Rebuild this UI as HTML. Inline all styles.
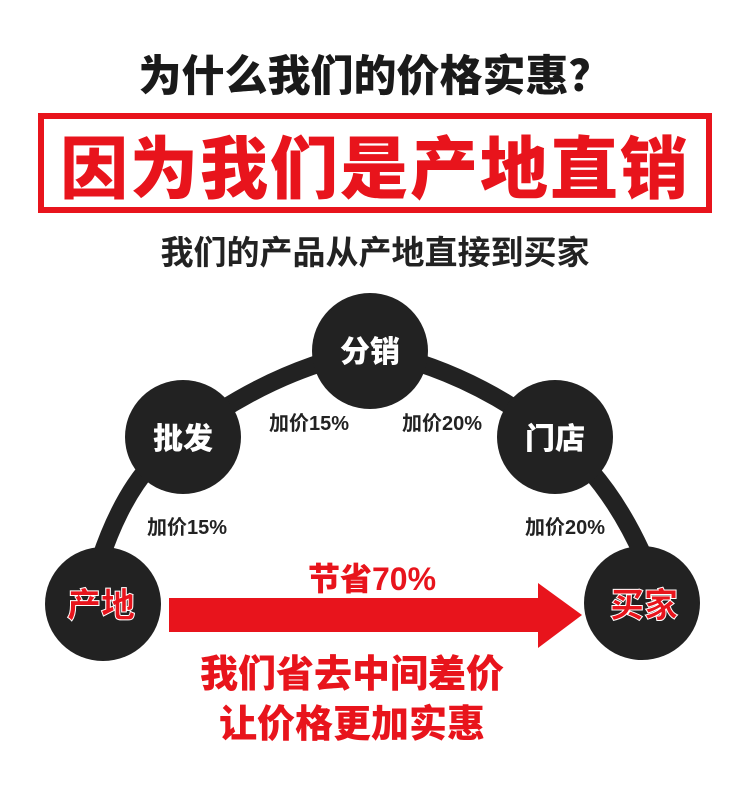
<!DOCTYPE html>
<html><head><meta charset="utf-8"><style>
body{margin:0;width:750px;height:788px;background:#fff;overflow:hidden;font-family:"Liberation Sans","Noto Sans CJK SC",sans-serif;position:relative}
.t{position:absolute;left:0;width:750px;text-align:center;font-weight:900;white-space:nowrap}
</style></head><body>
<div class="t" style="top:42px;font-size:43px;color:#1a1a1a">为什么我们的价格实惠？</div>
<div style="position:absolute;left:38px;top:113px;width:662px;height:88px;border:6px solid #e8141c"></div>
<div class="t" style="top:114px;font-size:68px;color:#e8141c;letter-spacing:2px">因为我们是产地直销</div>
<div class="t" style="top:226px;font-size:33px;color:#222;font-weight:700">我们的产品从产地直接到买家</div>
<svg width="750" height="788" style="position:absolute;left:0;top:0">
<path d="M100 560 Q130 470 183 437 Q270 370 370 350 Q470 370 555 437 Q610 480 645 560" fill="none" stroke="#222" stroke-width="18"/>
<g fill="#222">
<ellipse cx="103" cy="604" rx="58" ry="57"/>
<ellipse cx="183" cy="437" rx="58" ry="57"/>
<ellipse cx="370" cy="351" rx="58" ry="58"/>
<ellipse cx="555" cy="437" rx="58" ry="57"/>
<ellipse cx="642" cy="603" rx="58" ry="57"/>
</g>
<polygon points="169,598 538,598 538,583 582,615 538,648 538,632 169,632" fill="#e8141c"/>
<g font-family="Liberation Sans,Noto Sans CJK SC,sans-serif" font-weight="900" text-anchor="middle">
<text x="370" y="362" font-size="30" fill="#fff">分销</text>
<text x="183" y="449" font-size="30" fill="#fff">批发</text>
<text x="555" y="449" font-size="30" fill="#fff">门店</text>
<text x="101" y="617" font-size="34" fill="#e8141c" stroke="#fff" stroke-width="1">产地</text>
<text x="644" y="617" font-size="34" fill="#e8141c" stroke="#fff" stroke-width="1">买家</text>
<text x="309" y="430" font-size="20" fill="#222" font-weight="700">加价15%</text>
<text x="442" y="430" font-size="20" fill="#222" font-weight="700">加价20%</text>
<text x="187" y="534" font-size="20" fill="#222" font-weight="700">加价15%</text>
<text x="565" y="534" font-size="20" fill="#222" font-weight="700">加价20%</text>
<text x="372" y="590" font-size="32" fill="#e8141c">节省70%</text>
<text x="352" y="687" font-size="38" fill="#e8141c">我们省去中间差价</text>
<text x="352" y="737" font-size="38" fill="#e8141c">让价格更加实惠</text>
</g>
</svg>
</body></html>
